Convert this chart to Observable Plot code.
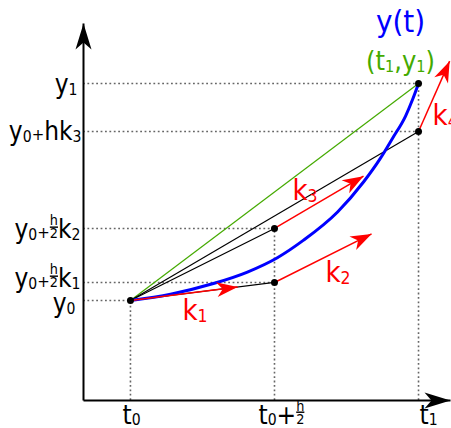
<!DOCTYPE html>
<html>
<head>
<meta charset="utf-8">
<script src="https://cdn.jsdelivr.net/npm/d3@7"></script>
<script src="https://cdn.jsdelivr.net/npm/@observablehq/plot@0.6"></script>
<style>
  html, body { margin: 0; padding: 0; background: #fff; }
  body { width: 451px; height: 428px; overflow: hidden; }
  svg { display: block; }
</style>
</head>
<body>
<div id="chart"></div>
<script>
// One classical Runge–Kutta (RK4) step from t0 to t1 = t0 + h  (h = 1, y0 = 0).
const t0 = 0;
const h = 1;
const y0 = 0;
const y1 = 1;

// Slopes k1..k4 and how far (in t) each slope arrow reaches.
const slopes = [0.166, 0.664, 0.779, 3.0];
const arrowReach = [0.372, 0.337, 0.309, 0.108];

// The exact solution y(t) over the step.
const curveT = [0, 0.139, 0.288, 0.406, 0.510, 0.601, 0.719, 0.809, 0.868, 0.910, 0.955, 0.979, 1];
const curveY = [0, 0.029, 0.078, 0.131, 0.197, 0.278, 0.408, 0.546, 0.656, 0.748, 0.850, 0.925, 1];

// Extents of the two axis arrows.
const tExtent = [-0.163, 1.111];
const yExtent = [-0.461, 1.2765];

// Label markup: "_x" is a small subscript (a small "+" when x is "+"),
// "{a/b}" a small stacked fraction.
const xTickLabels = ["t_0", "t_0+{h/2}", "t_1"];
const yTickLabels = ["y_1", "y_0_+hk_3", "y_0_+{h/2}k_2", "y_0_+{h/2}k_1", "y_0"];
const slopeLabels = ["k_1", "k_2", "k_3", "k_4"];
const curveLabel = "y(t)";
const endLabel = "(t_1,y_1)";

// Derived RK4 points
const [k1, k2, k3, k4] = slopes;
const tMid = t0 + h / 2;
const t1 = t0 + h;
const start = {t: t0, y: y0};
const p1 = {t: tMid, y: y0 + (h / 2) * k1};
const p2 = {t: tMid, y: y0 + (h / 2) * k2};
const p3 = {t: t1, y: y0 + h * k3};
const end = {t: t1, y: y1};

const arrowStarts = [start, p1, p2, p3];
const arrows = arrowStarts.map((p, i) => ({
  x1: p.t, y1: p.y,
  x2: p.t + arrowReach[i], y2: p.y + slopes[i] * arrowReach[i]
}));

const hGuides = [end, p3, p2, p1, start];
const vGuides = [start, p2, end];
const chords = [
  {x1: start.t, y1: start.y, x2: p1.t, y2: p1.y},
  {x1: start.t, y1: start.y, x2: p2.t, y2: p2.y},
  {x1: start.t, y1: start.y, x2: p3.t, y2: p3.y}
];
const curve = curveT.map((t, i) => ({t, y: curveY[i]}));
const axes = [
  {x1: tExtent[0], y1: yExtent[0], x2: tExtent[1], y2: yExtent[0]},
  {x1: tExtent[0], y1: yExtent[0], x2: tExtent[0], y2: yExtent[1]}
];

const FONT = "'DejaVu Sans Condensed', 'DejaVu Sans', sans-serif";
const RED = "#ff0000", BLUE = "#0000ff", GREEN = "#44aa00";

function label(datum, markup, o) {
  return Plot.text([datum], {
    x: "t", y: "y", text: () => markup,
    fontFamily: FONT, fontSize: o.size, fill: o.fill || "black",
    textAnchor: o.anchor || "start", lineAnchor: "bottom",
    dx: o.dx || 0, dy: o.dy || 0
  });
}

const yTickValues = [end, p3, p2, p1, start];
const yLabelDy = [10, 9, 10, 5, 12];
const yLabelDx = [-6, -2, -3, -3, -8];
const xTickValues = [t0, tMid, t1];
const xLabelDx = [-8, -16, 1];

const marks = [
  // dotted guides
  Plot.ruleY(hGuides, {y: "y", x1: () => tExtent[0], x2: "t", stroke: "#666", strokeWidth: 1.6, strokeDasharray: "1.8,2.6"}),
  Plot.ruleX(vGuides, {x: "t", y1: () => yExtent[0], y2: "y", stroke: "#666", strokeWidth: 1.6, strokeDasharray: "1.8,2.6"}),
  // secant to (t1, y1)
  Plot.link([{x1: start.t, y1: start.y, x2: end.t, y2: end.y}], {x1: "x1", y1: "y1", x2: "x2", y2: "y2", stroke: GREEN, strokeWidth: 1.2}),
  // chords through the intermediate RK points
  Plot.link(chords, {x1: "x1", y1: "y1", x2: "x2", y2: "y2", stroke: "black", strokeWidth: 1.2}),
  // exact solution
  Plot.line(curve, {x: "t", y: "y", stroke: BLUE, strokeWidth: 3, curve: "monotone-x"}),
  // slope arrows
  Plot.link(arrows, {x1: "x1", y1: "y1", x2: "x2", y2: "y2", stroke: RED, strokeWidth: 1.5}),
  // axes
  Plot.link(axes, {x1: "x1", y1: "y1", x2: "x2", y2: "y2", stroke: "black", strokeWidth: 2}),
  // RK points
  Plot.dot([start, p1, p2, p3, end], {x: "t", y: "y", r: 3.5, fill: "black"}),
  // tick labels
  ...yTickValues.map((p, i) => label({t: tExtent[0], y: p.y}, yTickLabels[i], {size: 26, anchor: "end", dx: yLabelDx[i], dy: yLabelDy[i]})),
  ...xTickValues.map((t, i) => label({t, y: yExtent[0]}, xTickLabels[i], {size: 26, dx: xLabelDx[i], dy: 23})),
  // slope labels
  label(arrowStarts[0], slopeLabels[0], {size: 29, fill: RED, dx: 52, dy: 20}),
  label(arrowStarts[1], slopeLabels[1], {size: 29, fill: RED, dx: 51, dy: 0}),
  label(arrowStarts[2], slopeLabels[2], {size: 29, fill: RED, dx: 18, dy: -28}),
  label(arrowStarts[3], slopeLabels[3], {size: 29, fill: RED, dx: 14, dy: -6}),
  // curve and end-point labels
  label(end, curveLabel, {size: 31, fill: BLUE, anchor: "middle", dx: -18, dy: -51}),
  label(end, endLabel, {size: 27, fill: GREEN, anchor: "middle", dx: -18, dy: -13})
];

const svg = Plot.plot({
  width: 451,
  height: 428,
  marginLeft: 83,
  marginRight: 1,
  marginTop: 23,
  marginBottom: 28,
  x: {domain: tExtent, axis: null},
  y: {domain: yExtent, axis: null},
  style: {background: "white", fontFamily: FONT},
  marks
});
document.getElementById("chart").append(svg);

// Filled arrowheads for the slope arrows and the axes.
const NS = "http://www.w3.org/2000/svg";
const defs = d3.select(svg).insert("defs", ":first-child");
function head(id, color, len, half, notch) {
  defs.append("marker")
    .attr("id", id)
    .attr("markerUnits", "userSpaceOnUse")
    .attr("orient", "auto")
    .attr("viewBox", `${-len - 1} ${-half - 1} ${len + 2} ${2 * half + 2}`)
    .attr("markerWidth", len + 2)
    .attr("markerHeight", 2 * half + 2)
    .attr("refX", 0).attr("refY", 0)
    .append("path")
    .attr("d", `M0,0L${-len},${-half}L${-notch},0L${-len},${half}Z`)
    .attr("fill", color);
}
head("head-red", RED, 21, 7.5, 15);
head("head-black", "black", 26, 8, 19);
d3.select(svg).selectAll("g").each(function () {
  const stroke = (this.getAttribute("stroke") || "").toLowerCase();
  const sw = this.getAttribute("stroke-width");
  const id = stroke === RED && sw === "1.5" ? "head-red"
    : stroke === "black" && sw === "2" ? "head-black" : null;
  if (id) d3.select(this).selectAll("path").attr("marker-end", `url(#${id})`);
});

// Rich text: subscripts and stacked fractions as tspans.
function setRich(el, src, base) {
  el.textContent = "";
  let shift = 0;
  const add = (s, size, off, extra) => {
    const t = document.createElementNS(NS, "tspan");
    t.textContent = s;
    t.setAttribute("font-size", size);
    t.setAttribute("dy", off - shift);
    shift = off;
    if (extra) for (const k in extra) t.setAttribute(k, extra[k]);
    el.appendChild(t);
    return t;
  };
  for (let i = 0; i < src.length; i++) {
    const c = src[i];
    if (c === "_") {
      const s = src[++i];
      if (s === "+") add("+", base * 0.64, 0);
      else add(s, base * 0.6, base * 0.06);
    } else if (c === "{") {
      const j = src.indexOf("}", i);
      const [num, den] = src.slice(i + 1, j).split("/");
      i = j;
      const fs = base * 0.55;
      const top = add(num, fs, -base * 0.5);
      top.style.textDecoration = "underline";
      const w = top.getComputedTextLength();
      add(den, fs, 0, {dx: -w});
    } else {
      add(c, base, 0);
    }
  }
}
svg.querySelectorAll("text").forEach(el => {
  const src = el.textContent;
  if (/[_{]/.test(src)) setRich(el, src, parseFloat(getComputedStyle(el).fontSize));
});
</script>
</body>
</html>
